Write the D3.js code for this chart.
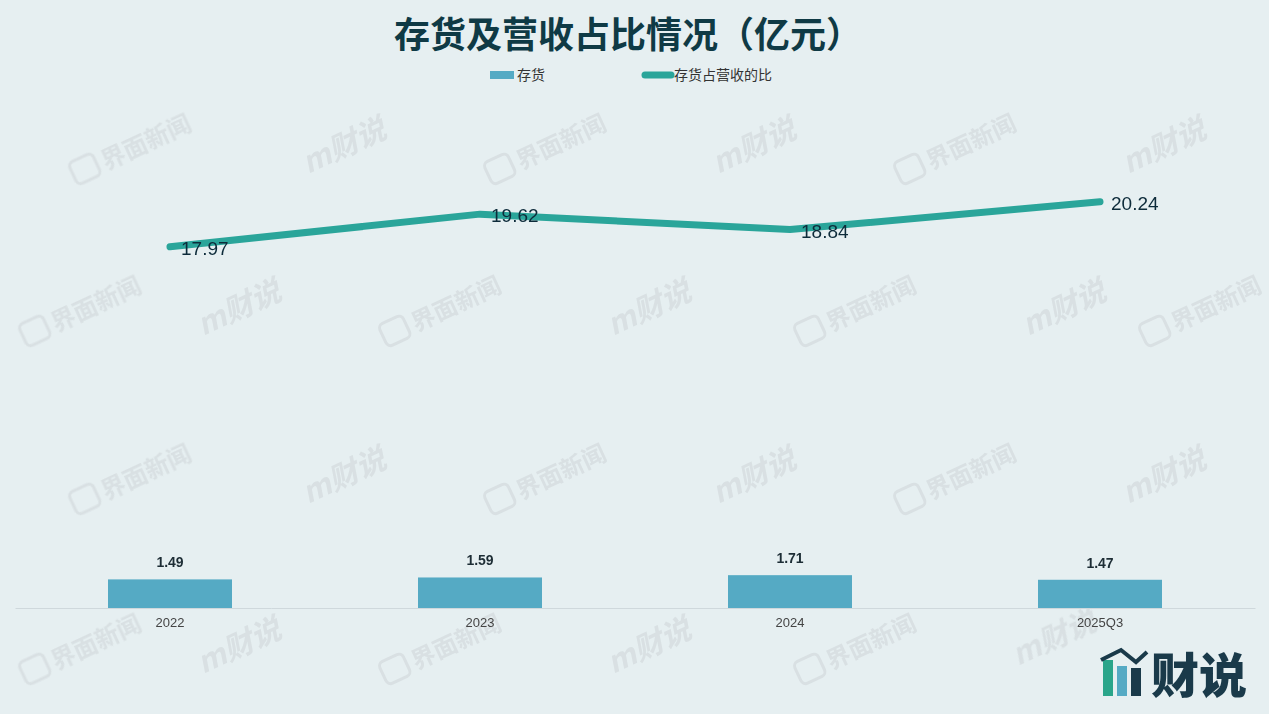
<!DOCTYPE html>
<html><head><meta charset="utf-8">
<script src="https://cdn.jsdelivr.net/npm/d3@7"></script>
<style>
html,body{margin:0;padding:0;background:#e6eff1;}
svg{display:block;font-family:"Noto Sans CJK SC","Liberation Sans",sans-serif;}
</style></head>
<body>
<svg id="chart" width="1269" height="714"></svg>
<script>
const categories = ["2022", "2023", "2024", "2025Q3"];
const inventory = [1.49, 1.59, 1.71, 1.47];
const ratio = [17.97, 19.62, 18.84, 20.24];
const seriesNames = ["存货", "存货占营收的比"];
const title = "存货及营收占比情况（亿元）";

const W = 1269, H = 714;
const svg = d3.select("#chart");
svg.append("rect").attr("width", W).attr("height", H).attr("fill", "#e6eff1");

// watermarks
const wm = svg.append("g").attr("fill", "#d3dadd").attr("opacity", 0.7)
  .style("font-weight", "bold");
const rowsA = [[130,150],[545,150],[955,150],[130,480],[545,480],[955,480]];
const rowsB = [[340,148],[750,148],[1160,148],[340,478],[750,478],[1160,478]];
const rowsC = [[80,312],[440,312],[855,312],[1200,312],[80,650],[440,650],[855,650]];
const rowsD = [[235,310],[645,310],[1060,310],[235,648],[645,648],[1050,640]];
function mark(x, y, t) {
  const g = wm.append("g").attr("transform", `translate(${x},${y}) rotate(-25)`);
  if (t === "界面新闻") {
    g.append("rect").attr("x", -62).attr("y", -14).attr("width", 26).attr("height", 24).attr("rx", 5)
      .attr("fill", "none").attr("stroke", "#d3dadd").attr("stroke-width", 3);
    g.append("text").attr("x", -30).attr("y", 8).attr("font-size", 24).text(t);
  } else {
    g.append("text").attr("x", -40).attr("y", 10).attr("font-size", 30).attr("font-style", "italic").text("m财说");
  }
}
rowsA.forEach(p => mark(p[0], p[1], "界面新闻"));
rowsC.forEach(p => mark(p[0], p[1], "界面新闻"));
rowsB.forEach(p => mark(p[0], p[1], "财说"));
rowsD.forEach(p => mark(p[0], p[1], "财说"));

// scales
const x = d3.scaleBand().domain(categories).range([15, 1255]).paddingInner(0).paddingOuter(0);
const yBar = d3.scaleLinear().domain([0, 25]).range([608, 608 - 25 * 19.2]);
const yLine = d3.scaleLinear().domain([0, 25]).range([603, 603 - 25 * 19.82]);
const barW = x.bandwidth() * 0.4;

// title
svg.append("text").attr("x", 628).attr("y", 48).attr("text-anchor", "middle")
  .attr("font-size", 36).attr("font-weight", "bold").attr("fill", "#0f3a45").text(title);

// legend
const lg = svg.append("g");
lg.append("rect").attr("x", 490).attr("y", 71).attr("width", 24).attr("height", 8).attr("fill", "#55aac4");
lg.append("text").attr("x", 517).attr("y", 80).attr("font-size", 14).attr("fill", "#333").text(seriesNames[0]);
lg.append("line").attr("x1", 645).attr("x2", 671).attr("y1", 75).attr("y2", 75)
  .attr("stroke", "#2aa59a").attr("stroke-width", 7).attr("stroke-linecap", "round");
lg.append("text").attr("x", 674).attr("y", 80).attr("font-size", 14).attr("fill", "#333").text(seriesNames[1]);

// axis
const axis = svg.append("g").attr("transform", "translate(0,608)")
  .call(d3.axisBottom(x).tickSize(0).tickPadding(10));
axis.select(".domain").attr("stroke", "#cfd8dc");
axis.selectAll("text").attr("font-size", 13).attr("fill", "#444")
  .attr("font-family", "'Liberation Sans',sans-serif");

// bars
svg.append("g").selectAll("rect").data(categories).join("rect")
  .attr("x", d => x(d) + (x.bandwidth() - barW) / 2)
  .attr("y", (d, i) => yBar(inventory[i]))
  .attr("width", barW)
  .attr("height", (d, i) => yBar(0) - yBar(inventory[i]))
  .attr("fill", "#55aac4");
svg.append("g").selectAll("text").data(categories).join("text")
  .attr("x", d => x(d) + x.bandwidth() / 2)
  .attr("y", (d, i) => yBar(inventory[i]) - 12)
  .attr("text-anchor", "middle").attr("font-size", 14).attr("font-weight", "bold")
  .attr("fill", "#1d2d35").attr("font-family", "'Liberation Sans',sans-serif")
  .text((d, i) => inventory[i].toFixed(2));

// line
const cx = d => x(d) + x.bandwidth() / 2;
const line = d3.line().x((d, i) => cx(categories[i])).y(d => yLine(d)).curve(d3.curveLinear);
svg.append("path").datum(ratio).attr("d", line)
  .attr("fill", "none")
  .attr("stroke", "#2aa59a").attr("stroke-width", 7).attr("stroke-linecap", "round").attr("stroke-linejoin", "round");
svg.append("g").selectAll("text").data(ratio).join("text")
  .attr("x", (d, i) => cx(categories[i]) + 11)
  .attr("y", d => yLine(d) + 8)
  .attr("font-size", 19).attr("fill", "#0d2b3a")
  .attr("font-family", "'Liberation Sans',sans-serif")
  .text(d => d.toFixed(2));

// logo
const logo = svg.append("g").attr("transform", "translate(1103,648)");
logo.append("rect").attr("x", 0).attr("y", 12).attr("width", 10).attr("height", 36).attr("fill", "#2aa58a");
logo.append("rect").attr("x", 14).attr("y", 18).attr("width", 10).attr("height", 30).attr("fill", "#55aac4");
logo.append("rect").attr("x", 28).attr("y", 20).attr("width", 10).attr("height", 28).attr("fill", "#1a3a4a");
logo.append("path").attr("d", "M-2,12 L18,2 L33,14 L44,4").attr("fill", "none").attr("stroke", "#1a3a4a").attr("stroke-width", 4);
logo.append("text").attr("x", 48).attr("y", 45).attr("font-size", 48).attr("font-weight", "900")
  .attr("fill", "#1a3a4a").text("财说");
</script>
</body></html>
